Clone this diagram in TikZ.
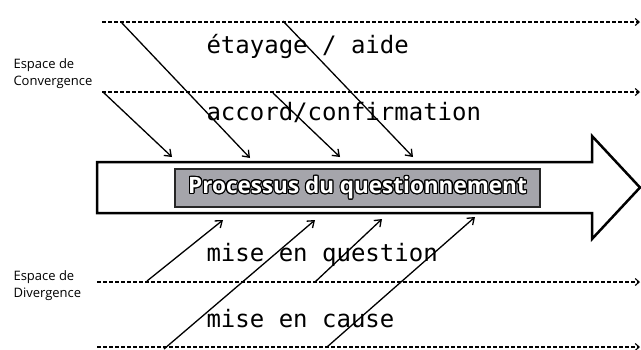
\documentclass[tikz,border=0pt]{standalone}
\usepackage{fontspec}
\usepackage{tikz}
\usepackage{contour}
\usetikzlibrary{arrows.meta}
\newfontfamily\monofont{DejaVu Sans Mono}
\newfontfamily\labelfont{Open Sans}
\definecolor{boxgray}{RGB}{165,165,171}
\contourlength{1.1pt}

\tikzset{
    niveau/.style={dashed, dash pattern=on 4pt off 2pt, line width=1.1pt, -{Straight Barb[length=4pt,width=7pt]}},
    apport/.style={line width=1.3pt, -{Straight Barb[length=6pt,width=9pt]}},
    echange/.style={anchor=base west, font=\monofont\fontsize{24}{28}\selectfont},
    espace/.style={anchor=west, align=left, font=\labelfont\fontsize{13}{17}\selectfont},
    titrebox/.style={draw=black!85, line width=1.5pt, fill=boxgray, minimum width=365pt, minimum height=38pt, text=white,
        font=\labelfont\bfseries\fontsize{22.5}{26}\selectfont}
}

\begin{document}
\begin{tikzpicture}[x=1pt, y=-1pt]
    \useasboundingbox (0,0) rectangle (641,349);

    % Lignes des espaces
    \coordinate (n1g) at (102,22);  \coordinate (n1d) at (640,22);
    \coordinate (n2g) at (102,92);  \coordinate (n2d) at (640,92);
    \coordinate (n3g) at (97,282);  \coordinate (n3d) at (640,282);
    \coordinate (n4g) at (97,347);  \coordinate (n4d) at (640,347);
    \draw[niveau] (n1g) -- (n1d);
    \draw[niveau] (n2g) -- (n2d);
    \draw[niveau] (n3g) -- (n3d);
    \draw[niveau] (n4g) -- (n4d);

    % Grande fleche du processus
    \draw[line width=2.5pt, fill=white, line join=miter]
        (97,162) -- (592,162) -- (592,136) -- (640,187.5) -- (592,239) -- (592,213) -- (97,213) -- cycle;
    \node[titrebox] (titre) at (357.5,188) {\contour{black}{Processus du questionnement}};

    % Echanges
    \node[echange] (etayage) at (203,53) {étayage / aide};
    \node[echange] (accord) at (203,120) {accord/confirmation};
    \node[echange] (question) at (203,261) {mise en question};
    \node[echange] (cause) at (203,327) {mise en cause};

    % Espaces
    \node[espace] (conv) at (10,74) {Espace de\\Convergence};
    \node[espace] (div) at (10,286) {Espace de\\Divergence};

    % Apports vers le processus (convergence)
    \coordinate (c1) at (121,22);  \coordinate (p1) at (250,158);
    \coordinate (c2) at (103,92);  \coordinate (p2) at (172,157);
    \coordinate (c3) at (283,21);  \coordinate (p3) at (413,157);
    \coordinate (c4) at (273,93);  \coordinate (p4) at (340,157);
    \draw[apport] (c1) -- (p1);
    \draw[apport] (c2) -- (p2);
    \draw[apport] (c3) -- (p3);
    \draw[apport] (c4) -- (p4);

    % Apports vers le processus (divergence)
    \coordinate (d1) at (147,281);  \coordinate (q1) at (223,220);
    \coordinate (d2) at (164,349);  \coordinate (q2) at (315,220);
    \coordinate (d3) at (315,282);  \coordinate (q3) at (382,219);
    \coordinate (d4) at (327,347);  \coordinate (q4) at (475,217);
    \draw[apport] (d1) -- (q1);
    \draw[apport] (d2) -- (q2);
    \draw[apport] (d3) -- (q3);
    \draw[apport] (d4) -- (q4);
\end{tikzpicture}
\end{document}
